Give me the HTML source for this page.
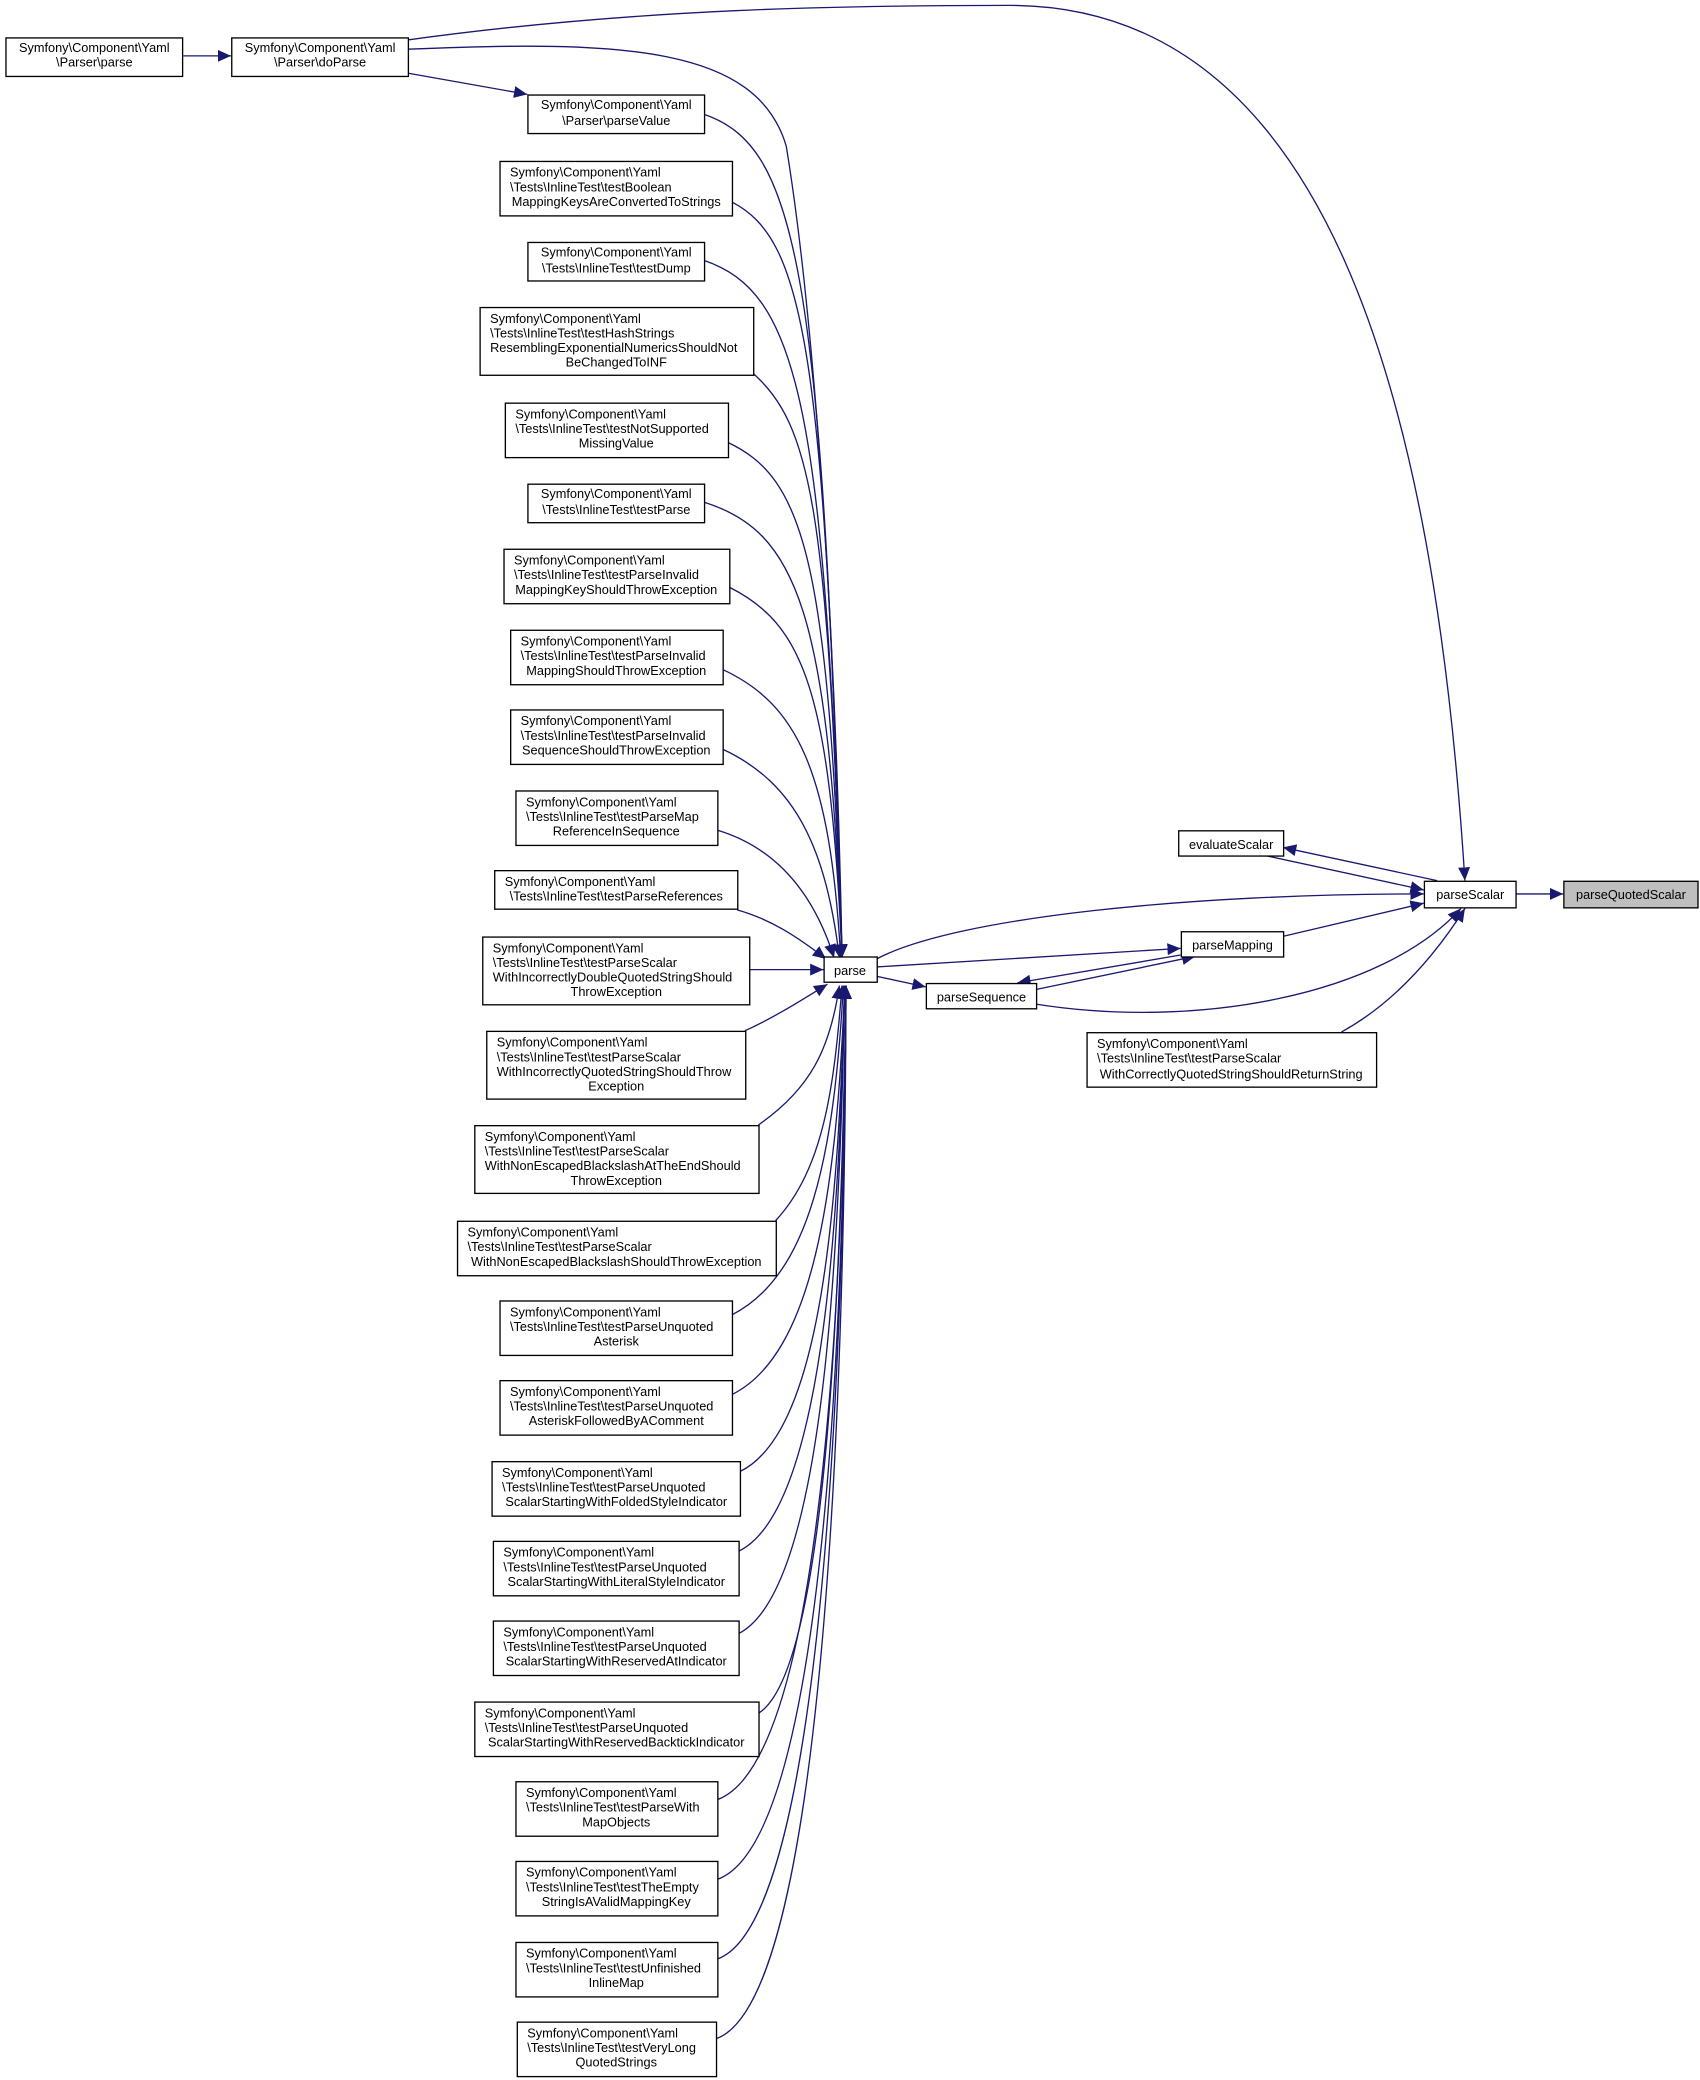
<!DOCTYPE html>
<html><head><meta charset="utf-8"><style>
html,body{margin:0;padding:0;background:#fff;}
svg{display:block;}
text{font-family:"Liberation Sans",Arial,sans-serif;font-size:9.6px;fill:#000;}
.b{fill:#fff;stroke:#000;stroke-width:1;}
.e{fill:none;stroke:#191970;stroke-width:1;}
</style></head><body>
<svg width="1700" height="2080" viewBox="0 0 1280 1566" xmlns="http://www.w3.org/2000/svg">
<defs><marker id="a" markerUnits="userSpaceOnUse" markerWidth="11" markerHeight="9" refX="10" refY="4.5" orient="auto"><path d="M0,0 L10,4.5 L0,9 z" fill="#191970"/></marker></defs>
<g class="e" marker-end="url(#a)">
<path d="M138,42 L174,42"/>
<path d="M307,55 L397,71"/>
<path d="M307,30 C480,6 640,4 760,4 C1000,4 1080,300 1103,663"/>
<path d="M307,37 C470,30 570,35 592,110 C615,250 630,500 634,721"/>
<path d="M530,86 C600,110 620,200 634,721"/>
<path d="M551,152 C605,180 622,260 634,721"/>
<path d="M530,196 C600,220 622,300 634,721"/>
<path d="M567,281 C610,320 624,380 634,721"/>
<path d="M548,333 C605,360 624,420 634,721"/>
<path d="M530,378 C600,400 624,460 634,721"/>
<path d="M549,442 C605,470 625,520 634,721"/>
<path d="M544,504 C600,530 625,580 633,721"/>
<path d="M544,564 C600,590 622,640 632,721"/>
<path d="M540,625 C590,640 615,680 628,721"/>
<path d="M555,685 C580,692 600,705 622,722"/>
<path d="M564,730 L620,730"/>
<path d="M561,776 C585,765 605,752 623,741"/>
<path d="M571,847 C610,820 625,790 632,742"/>
<path d="M584,919 C620,880 628,820 634,742"/>
<path d="M551,990 C610,960 628,870 635,742"/>
<path d="M551,1050 C612,1020 630,900 636,742"/>
<path d="M557,1108 C615,1080 631,930 636,742"/>
<path d="M556,1168 C615,1140 632,950 636,742"/>
<path d="M556,1230 C616,1200 632,980 636,742"/>
<path d="M571,1290 C620,1260 633,1000 637,742"/>
<path d="M540,1355 C610,1330 634,1050 637,742"/>
<path d="M540,1415 C612,1390 635,1080 637,742"/>
<path d="M540,1475 C612,1450 635,1100 637,742"/>
<path d="M539,1535 C614,1510 636,1120 637,742"/>
<path d="M660,722 C720,690 900,673 1072,673"/>
<path d="M660,728 L889,714"/>
<path d="M889,719 L766,740"/>
<path d="M780,745 L900,720"/>
<path d="M660,735 L697,743"/>
<path d="M966,705 L1072,680"/>
<path d="M780,756 C900,775 1040,750 1100,684"/>
<path d="M1082,663 L966,638"/>
<path d="M952,644 L1072,670"/>
<path d="M1010,777 C1050,755 1080,720 1103,684"/>
<path d="M1141,673 L1177,673"/>
</g>
<g>
<rect class="b" x="4.5" y="28.5" width="133" height="29"/>
<text x="71" y="39" text-anchor="middle">Symfony\Component\Yaml</text><text x="71" y="50" text-anchor="middle">\Parser\parse</text>
<rect class="b" x="174.5" y="28.5" width="133" height="29"/>
<text x="241" y="39" text-anchor="middle">Symfony\Component\Yaml</text><text x="241" y="50" text-anchor="middle">\Parser\doParse</text>
<rect class="b" x="397.5" y="71.5" width="133" height="29"/>
<text x="464" y="82" text-anchor="middle">Symfony\Component\Yaml</text><text x="464" y="94" text-anchor="middle">\Parser\parseValue</text>
<rect class="b" x="376.5" y="121.5" width="175" height="41"/>
<text x="384" y="133">Symfony\Component\Yaml</text><text x="384" y="144">\Tests\InlineTest\testBoolean</text><text x="464" y="155" text-anchor="middle">MappingKeysAreConvertedToStrings</text>
<rect class="b" x="397.5" y="182.5" width="133" height="29"/>
<text x="464" y="193" text-anchor="middle">Symfony\Component\Yaml</text><text x="464" y="205" text-anchor="middle">\Tests\InlineTest\testDump</text>
<rect class="b" x="361.5" y="231.5" width="206" height="51"/>
<text x="369" y="243">Symfony\Component\Yaml</text><text x="369" y="254">\Tests\InlineTest\testHashStrings</text><text x="369" y="265">ResemblingExponentialNumericsShouldNot</text><text x="464" y="276" text-anchor="middle">BeChangedToINF</text>
<rect class="b" x="380.5" y="303.5" width="168" height="41"/>
<text x="388" y="315">Symfony\Component\Yaml</text><text x="388" y="326">\Tests\InlineTest\testNotSupported</text><text x="464" y="337" text-anchor="middle">MissingValue</text>
<rect class="b" x="397.5" y="364.5" width="133" height="29"/>
<text x="464" y="375" text-anchor="middle">Symfony\Component\Yaml</text><text x="464" y="387" text-anchor="middle">\Tests\InlineTest\testParse</text>
<rect class="b" x="379.5" y="413.5" width="170" height="41"/>
<text x="387" y="425">Symfony\Component\Yaml</text><text x="387" y="436">\Tests\InlineTest\testParseInvalid</text><text x="464" y="447" text-anchor="middle">MappingKeyShouldThrowException</text>
<rect class="b" x="384.5" y="474.5" width="160" height="41"/>
<text x="392" y="486">Symfony\Component\Yaml</text><text x="392" y="497">\Tests\InlineTest\testParseInvalid</text><text x="464" y="508" text-anchor="middle">MappingShouldThrowException</text>
<rect class="b" x="384.5" y="534.5" width="160" height="41"/>
<text x="392" y="546">Symfony\Component\Yaml</text><text x="392" y="557">\Tests\InlineTest\testParseInvalid</text><text x="464" y="568" text-anchor="middle">SequenceShouldThrowException</text>
<rect class="b" x="388.5" y="595.5" width="152" height="41"/>
<text x="396" y="607">Symfony\Component\Yaml</text><text x="396" y="618">\Tests\InlineTest\testParseMap</text><text x="464" y="629" text-anchor="middle">ReferenceInSequence</text>
<rect class="b" x="372.5" y="655.5" width="183" height="29"/>
<text x="380" y="667">Symfony\Component\Yaml</text><text x="464" y="678" text-anchor="middle">\Tests\InlineTest\testParseReferences</text>
<rect class="b" x="363.5" y="705.5" width="201" height="51"/>
<text x="371" y="717">Symfony\Component\Yaml</text><text x="371" y="728">\Tests\InlineTest\testParseScalar</text><text x="371" y="739">WithIncorrectlyDoubleQuotedStringShould</text><text x="464" y="750" text-anchor="middle">ThrowException</text>
<rect class="b" x="366.5" y="776.5" width="195" height="51"/>
<text x="374" y="788">Symfony\Component\Yaml</text><text x="374" y="799">\Tests\InlineTest\testParseScalar</text><text x="374" y="810">WithIncorrectlyQuotedStringShouldThrow</text><text x="464" y="821" text-anchor="middle">Exception</text>
<rect class="b" x="357.5" y="847.5" width="214" height="51"/>
<text x="365" y="859">Symfony\Component\Yaml</text><text x="365" y="870">\Tests\InlineTest\testParseScalar</text><text x="365" y="881">WithNonEscapedBlackslashAtTheEndShould</text><text x="464" y="892" text-anchor="middle">ThrowException</text>
<rect class="b" x="344.5" y="919.5" width="240" height="41"/>
<text x="352" y="931">Symfony\Component\Yaml</text><text x="352" y="942">\Tests\InlineTest\testParseScalar</text><text x="464" y="953" text-anchor="middle">WithNonEscapedBlackslashShouldThrowException</text>
<rect class="b" x="376.5" y="979.5" width="175" height="41"/>
<text x="384" y="991">Symfony\Component\Yaml</text><text x="384" y="1002">\Tests\InlineTest\testParseUnquoted</text><text x="464" y="1013" text-anchor="middle">Asterisk</text>
<rect class="b" x="376.5" y="1039.5" width="175" height="41"/>
<text x="384" y="1051">Symfony\Component\Yaml</text><text x="384" y="1062">\Tests\InlineTest\testParseUnquoted</text><text x="464" y="1073" text-anchor="middle">AsteriskFollowedByAComment</text>
<rect class="b" x="370.5" y="1100.5" width="187" height="41"/>
<text x="378" y="1112">Symfony\Component\Yaml</text><text x="378" y="1123">\Tests\InlineTest\testParseUnquoted</text><text x="464" y="1134" text-anchor="middle">ScalarStartingWithFoldedStyleIndicator</text>
<rect class="b" x="371.5" y="1160.5" width="185" height="41"/>
<text x="379" y="1172">Symfony\Component\Yaml</text><text x="379" y="1183">\Tests\InlineTest\testParseUnquoted</text><text x="464" y="1194" text-anchor="middle">ScalarStartingWithLiteralStyleIndicator</text>
<rect class="b" x="371.5" y="1220.5" width="185" height="41"/>
<text x="379" y="1232">Symfony\Component\Yaml</text><text x="379" y="1243">\Tests\InlineTest\testParseUnquoted</text><text x="464" y="1254" text-anchor="middle">ScalarStartingWithReservedAtIndicator</text>
<rect class="b" x="357.5" y="1281.5" width="214" height="41"/>
<text x="365" y="1293">Symfony\Component\Yaml</text><text x="365" y="1304">\Tests\InlineTest\testParseUnquoted</text><text x="464" y="1315" text-anchor="middle">ScalarStartingWithReservedBacktickIndicator</text>
<rect class="b" x="388.5" y="1341.5" width="152" height="41"/>
<text x="396" y="1353">Symfony\Component\Yaml</text><text x="396" y="1364">\Tests\InlineTest\testParseWith</text><text x="464" y="1375" text-anchor="middle">MapObjects</text>
<rect class="b" x="388.5" y="1401.5" width="152" height="41"/>
<text x="396" y="1413">Symfony\Component\Yaml</text><text x="396" y="1424">\Tests\InlineTest\testTheEmpty</text><text x="464" y="1435" text-anchor="middle">StringIsAValidMappingKey</text>
<rect class="b" x="388.5" y="1462.5" width="152" height="41"/>
<text x="396" y="1474">Symfony\Component\Yaml</text><text x="396" y="1485">\Tests\InlineTest\testUnfinished</text><text x="464" y="1496" text-anchor="middle">InlineMap</text>
<rect class="b" x="389.5" y="1522.5" width="150" height="41"/>
<text x="397" y="1534">Symfony\Component\Yaml</text><text x="397" y="1545">\Tests\InlineTest\testVeryLong</text><text x="464" y="1556" text-anchor="middle">QuotedStrings</text>
<rect class="b" x="620.5" y="720.5" width="40" height="19"/>
<text x="640" y="734" text-anchor="middle">parse</text>
<rect class="b" x="697.5" y="740.5" width="83" height="19"/>
<text x="739" y="754" text-anchor="middle">parseSequence</text>
<rect class="b" x="889.5" y="701.5" width="77" height="19"/>
<text x="928" y="715" text-anchor="middle">parseMapping</text>
<rect class="b" x="887.5" y="625.5" width="79" height="19"/>
<text x="927" y="639" text-anchor="middle">evaluateScalar</text>
<rect class="b" x="1072.5" y="663.5" width="69" height="20"/>
<text x="1107" y="677" text-anchor="middle">parseScalar</text>
<rect x="1177.5" y="663.5" width="101" height="20" fill="#bfbfbf" stroke="#000"/>
<text x="1228" y="677" text-anchor="middle">parseQuotedScalar</text>
<rect class="b" x="818.5" y="777.5" width="218" height="41"/>
<text x="826" y="789">Symfony\Component\Yaml</text><text x="826" y="800">\Tests\InlineTest\testParseScalar</text><text x="927" y="812" text-anchor="middle">WithCorrectlyQuotedStringShouldReturnString</text>
</g>
</svg>
</body></html>
